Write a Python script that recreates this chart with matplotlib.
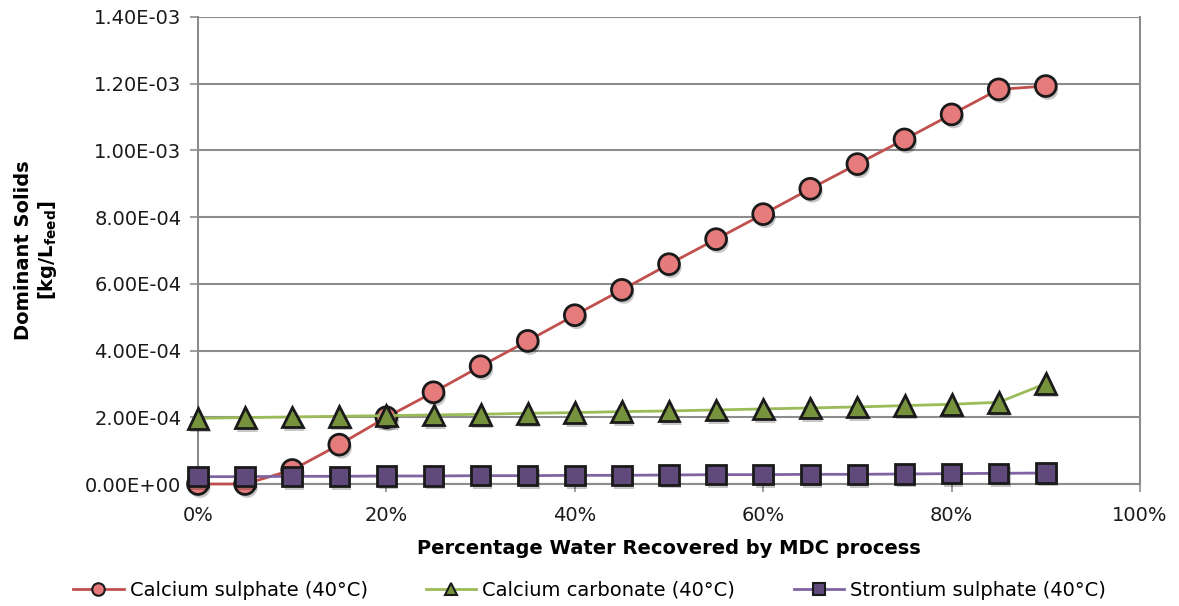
import matplotlib
matplotlib.use("Agg")
import matplotlib.pyplot as plt
import matplotlib.patheffects as pe
from matplotlib.lines import Line2D
from matplotlib.ticker import FuncFormatter, MultipleLocator

# Water recovered by the MDC process (fraction)
recovery = [0.00, 0.05, 0.10, 0.15, 0.20, 0.25, 0.30, 0.35, 0.40, 0.45,
            0.50, 0.55, 0.60, 0.65, 0.70, 0.75, 0.80, 0.85, 0.90]

# Dominant solids precipitated [kg/L_feed]
calcium_sulphate = [0.0, 0.0, 4.2e-5, 1.18e-4, 2.00e-4, 2.75e-4, 3.53e-4, 4.29e-4,
                    5.06e-4, 5.82e-4, 6.59e-4, 7.34e-4, 8.09e-4, 8.85e-4, 9.59e-4,
                    1.033e-3, 1.108e-3, 1.183e-3, 1.193e-3]
calcium_carbonate = [1.97e-4, 1.99e-4, 2.01e-4, 2.03e-4, 2.05e-4, 2.07e-4, 2.09e-4,
                     2.12e-4, 2.14e-4, 2.17e-4, 2.19e-4, 2.22e-4, 2.25e-4, 2.28e-4,
                     2.31e-4, 2.35e-4, 2.39e-4, 2.45e-4, 3.01e-4]
strontium_sulphate = [2.2e-5, 2.2e-5, 2.3e-5, 2.3e-5, 2.4e-5, 2.4e-5, 2.5e-5, 2.5e-5,
                      2.6e-5, 2.6e-5, 2.7e-5, 2.8e-5, 2.8e-5, 2.9e-5, 2.9e-5,
                      3.0e-5, 3.1e-5, 3.2e-5, 3.3e-5]

series_labels = ["Calcium sulphate (40°C)", "Calcium carbonate (40°C)",
                 "Strontium sulphate (40°C)"]

plt.rcParams["font.family"] = ["DejaVu Sans"]

fig = plt.figure(figsize=(11.79, 6.06), dpi=100)
ax = fig.add_axes([198 / 1179, 1 - 484 / 606, (1140 - 198) / 1179, (484 - 17) / 606])

grid_col = "#8c8c8c"
edge_col = "#1a1a1a"
shadow = [pe.SimplePatchShadow(offset=(1.5, -2.5), shadow_rgbFace="#000000", alpha=0.22),
          pe.Normal()]

styles = [
    (calcium_sulphate, "#C0504D", "o", "#E57B7B", 15),
    (calcium_carbonate, "#9BBB59", "^", "#76923C", 15),
    (strontium_sulphate, "#8064A2", "s", "#5F4A7B", 14),
]

handles = []
z = 3
for (vals, lc, mk, fc, ms), lab in zip(styles, series_labels):
    # connecting line
    ax.plot(recovery, vals, color=lc, lw=2, zorder=z, clip_on=False)
    # markers with a soft drop shadow
    ax.plot(recovery, vals, linestyle="none", marker=mk, markersize=ms,
            markerfacecolor=fc, markeredgecolor=edge_col, markeredgewidth=2,
            zorder=z + 0.5, clip_on=False, path_effects=shadow)
    handles.append(Line2D([], [], color=lc, lw=2, marker=mk, markersize=9,
                          markerfacecolor=fc, markeredgecolor=edge_col,
                          markeredgewidth=1.5, label=lab))
    z += 1

ax.set_xlim(0, 1.0)
ax.set_ylim(0, 1.4e-3)
ax.xaxis.set_major_locator(MultipleLocator(0.2))
ax.yaxis.set_major_locator(MultipleLocator(2e-4))
ax.xaxis.set_major_formatter(FuncFormatter(lambda v, p: f"{v * 100:.0f}%"))


def sci_fmt(v, p):
    if abs(v) < 1e-12:
        return "0.00E+00"
    return f"{v:.2E}"


ax.yaxis.set_major_formatter(FuncFormatter(sci_fmt))

ax.grid(axis="y", color=grid_col, lw=1.5, zorder=0)
ax.spines["top"].set_visible(False)
for side in ["left", "right", "bottom"]:
    ax.spines[side].set_color(grid_col)
    ax.spines[side].set_linewidth(1.5)

ax.tick_params(axis="both", colors=grid_col, labelcolor="#1a1a1a", labelsize=14,
               length=6, width=1.2)
ax.tick_params(axis="x", pad=10)
ax.tick_params(axis="y", pad=6)

ax.set_xlabel("Percentage Water Recovered by MDC process", fontsize=14,
              fontweight="bold", labelpad=10)
fig.text(0.031, 1 - 250 / 606, "Dominant Solids\n[kg/L$_{\\mathbf{feed}}$]",
         rotation=90, ha="center", va="center", fontsize=14, fontweight="bold",
         linespacing=1.15)

fig.legend(handles=handles, loc="center", bbox_to_anchor=(0.5, 1 - 590 / 606),
           ncol=3, frameon=False, fontsize=14, handlelength=2.6,
           columnspacing=3.0, handletextpad=0.3)

fig.savefig("out.png", dpi=100)
